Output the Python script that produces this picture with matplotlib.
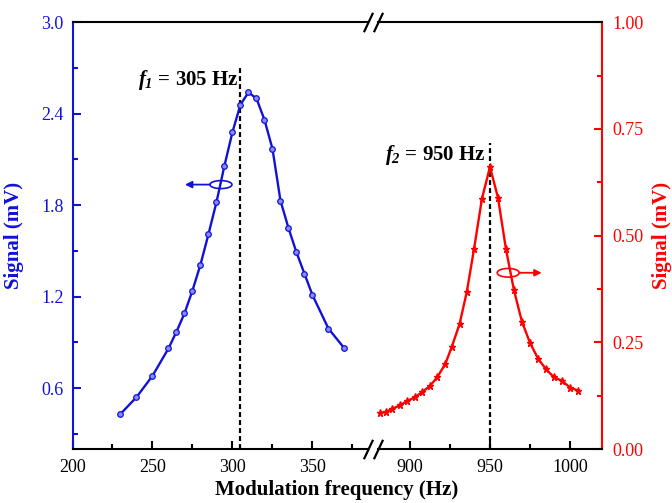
import matplotlib
matplotlib.use("Agg")
import matplotlib.pyplot as plt
from matplotlib.patches import Ellipse
from matplotlib.ticker import MultipleLocator, FixedLocator, FormatStrFormatter

# Low-frequency resonance (left axis, mV)
freq1 = [230, 240, 250, 260, 265, 270, 275, 280, 285, 290, 295, 300,
         305, 310, 315, 320, 325, 330, 335, 340, 345, 350, 360, 370]
sig1 = [0.43, 0.54, 0.68, 0.86, 0.97, 1.09, 1.24, 1.41, 1.61, 1.82, 2.06, 2.28,
        2.46, 2.54, 2.50, 2.36, 2.17, 1.83, 1.65, 1.49, 1.35, 1.21, 0.99, 0.86]

# High-frequency resonance (right axis, mV)
freq2 = [881, 885, 889, 894, 898, 903, 907.5, 912.5, 917, 922, 926, 931,
         935.5, 940, 945, 950, 955, 960, 965, 970, 975, 980, 985, 990,
         995, 1000, 1005]
sig2 = [0.084, 0.087, 0.094, 0.103, 0.112, 0.121, 0.133, 0.148, 0.168, 0.199,
        0.238, 0.293, 0.368, 0.468, 0.587, 0.661, 0.589, 0.468, 0.372, 0.298,
        0.249, 0.212, 0.187, 0.168, 0.160, 0.144, 0.137]

F1 = 305
F2 = 950

left_ticks = [200, 250, 300, 350]
right_ticks = [900, 950, 1000]

BLUE = "#1212d6"
RED = "#ff0000"

plt.rcParams["font.family"] = ["Liberation Serif", "DejaVu Serif"]
plt.rcParams["mathtext.fontset"] = "custom"
# symbol and subscript in bold italic
plt.rcParams["mathtext.it"] = "Liberation Serif:italic:bold"
plt.rcParams["mathtext.rm"] = "Liberation Serif:italic:bold"
plt.rcParams["mathtext.bf"] = "Liberation Serif:bold"

W, H = 672, 503
fig = plt.figure(figsize=(W / 100, H / 100), dpi=100)

bottom = 1 - 449 / H
height = (449 - 22.3) / H
ax_l = fig.add_axes([72.5 / W, bottom, (368.3 - 72.5) / W, height])
ax_r = fig.add_axes([378.3 / W, bottom, (601.5 - 378.3) / W, height])

ax_l.set_xlim(200, 384.9)
ax_l.set_ylim(0.2, 3.0)
ax_r.set_xlim(880.2, 1019.7)
ax_r.set_ylim(0.0, 1.0)

SPW = 1.5
for ax in (ax_l, ax_r):
    ax.patch.set_alpha(0)
    for s in ("top", "bottom"):
        ax.spines[s].set_color("black")
        ax.spines[s].set_linewidth(SPW)
ax_l.spines["right"].set_visible(False)
ax_l.spines["left"].set_color(BLUE)
ax_l.spines["left"].set_linewidth(SPW)
ax_r.spines["left"].set_visible(False)
ax_r.spines["right"].set_color(RED)
ax_r.spines["right"].set_linewidth(SPW)

# x ticks
ax_l.xaxis.set_major_locator(FixedLocator(left_ticks))
ax_l.xaxis.set_minor_locator(FixedLocator([225, 275, 325, 375]))
ax_r.xaxis.set_major_locator(FixedLocator(right_ticks))
ax_r.xaxis.set_minor_locator(FixedLocator([925, 975]))
for ax in (ax_l, ax_r):
    ax.tick_params(axis="x", which="major", direction="in", length=6, width=1.5,
                   labelsize=13, pad=7, colors="black", top=False)
    ax.tick_params(axis="x", which="minor", direction="in", length=3.5, width=1.5,
                   top=False)

# y ticks
ax_l.yaxis.set_major_locator(MultipleLocator(0.6))
ax_l.yaxis.set_minor_locator(MultipleLocator(0.3))
ax_l.yaxis.set_major_formatter(FormatStrFormatter("%.1f"))
ax_l.tick_params(axis="y", which="major", direction="in", length=6, width=1.5,
                 labelsize=13, pad=6.5, colors=BLUE, right=False)
ax_l.tick_params(axis="y", which="minor", direction="in", length=3.5, width=1.5,
                 colors=BLUE, right=False)

ax_r.yaxis.tick_right()
ax_r.yaxis.set_major_locator(MultipleLocator(0.25))
ax_r.yaxis.set_minor_locator(MultipleLocator(0.125))
ax_r.yaxis.set_major_formatter(FormatStrFormatter("%.2f"))
ax_r.tick_params(axis="y", which="major", direction="in", length=6, width=1.5,
                 labelsize=13, pad=7.5, colors=RED, left=False, right=True)
ax_r.tick_params(axis="y", which="minor", direction="in", length=3.5, width=1.5,
                 colors=RED, left=False, right=True)

# data curves
ax_l.plot(freq1, sig1, color=BLUE, lw=1.7, marker="o", markersize=4,
          markerfacecolor="#8a8aff", markeredgecolor=BLUE, markeredgewidth=0.9,
          clip_on=False, zorder=3)
ax_r.plot(freq2, sig2, color=RED, lw=1.7, marker="*", markersize=5.2,
          markerfacecolor=RED, markeredgecolor=RED, clip_on=False, zorder=3)

# resonance markers
dash = (0, (2.2, 1.4))
ax_l.vlines(F1, 0.2, 2.70, colors="black", linestyles=dash, lw=1.6, zorder=2)
ax_r.vlines(F2, 0.0, 0.716, colors="black", linestyles=dash, lw=1.6, zorder=2)

ax_l.text(F1 - 1.2, 2.62, r"$f_{1}$" + " = %d Hz" % F1, ha="right",
          va="center", fontsize=15, fontweight="bold", color="black")
ax_r.text(F2 - 2.5, 0.6885, r"$f_{2}$" + " = %d Hz" % F2, ha="right",
          va="center", fontsize=15, fontweight="bold", color="black")

# axis indicators (ellipse + arrow)
ax_l.add_patch(Ellipse((292.8, 1.935), 13.75, 0.0524, fill=False, ec=BLUE, lw=1.2))
ax_l.annotate("", xy=(270.3, 1.935), xytext=(285.9, 1.935),
              arrowprops=dict(arrowstyle="-|>", color=BLUE, lw=1.3,
                              mutation_scale=10, shrinkA=0, shrinkB=0))
ax_r.add_patch(Ellipse((961.4, 0.413), 13.75, 0.0204, fill=False, ec=RED, lw=1.2))
ax_r.annotate("", xy=(982.3, 0.413), xytext=(968.3, 0.413),
              arrowprops=dict(arrowstyle="-|>", color=RED, lw=1.3,
                              mutation_scale=10, shrinkA=0, shrinkB=0))

# axis break marks
brk = dict(marker=[(-0.47, -1), (0.47, 1)], markersize=14, linestyle="none",
           color="black", mec="black", mew=1.6, clip_on=False)
ax_l.plot([1, 1], [0, 1], transform=ax_l.transAxes, **brk)
ax_r.plot([0, 0], [0, 1], transform=ax_r.transAxes, **brk)

# axis titles
ymid = bottom + height / 2
fig.text(14 / W, ymid, "Signal (mV)", rotation=90, ha="center", va="center",
         fontsize=15, fontweight="bold", color=BLUE)
fig.text(662 / W, ymid, "Signal (mV)", rotation=90, ha="center", va="center",
         fontsize=15, fontweight="bold", color=RED)
fig.text(337 / W, 1 - 490 / H, "Modulation frequency (Hz)", ha="center",
         va="center", fontsize=15, fontweight="bold", color="black")

fig.savefig("out.png", dpi=100)
